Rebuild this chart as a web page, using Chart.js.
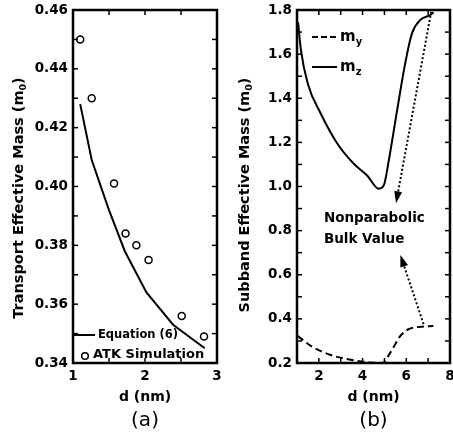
<!DOCTYPE html>
<html>
<head>
<meta charset="utf-8">
<script src="https://cdn.jsdelivr.net/npm/chart.js@4.4.1/dist/chart.umd.min.js"></script>
<style>
  html, body { margin: 0; padding: 0; background: #fff; }
  #wrap { position: relative; width: 453px; height: 436px; overflow: hidden; }
  canvas { position: absolute; top: 0; }
  #chartA { left: 0; }
  #chartB { left: 224px; }
</style>
</head>
<body>
<div id="wrap">
  <canvas id="chartA" width="224" height="436"></canvas>
  <canvas id="chartB" width="229" height="436"></canvas>
</div>
<script>
// --- Panel (a): transport effective mass ---
const atkD    = [1.10, 1.26, 1.57, 1.73, 1.88, 2.05, 2.51, 2.82];
const atkMass = [0.450, 0.430, 0.401, 0.384, 0.380, 0.375, 0.356, 0.349];
const eqD     = [1.10, 1.26, 1.50, 1.72, 2.02, 2.39, 2.83];
const eqMass  = [0.428, 0.409, 0.392, 0.378, 0.364, 0.353, 0.345];

const aXTicks = [1, 2, 3];
const aXMinor = [1, 1.5, 2, 2.5, 3];
const aYTicks = [0.34, 0.36, 0.38, 0.40, 0.42, 0.44, 0.46];
const aYMinor = [0.34, 0.35, 0.36, 0.37, 0.38, 0.39, 0.40, 0.41, 0.42, 0.43, 0.44, 0.45, 0.46];

// --- Panel (b): subband effective mass ---
const mzD = [1.05, 1.18, 1.49, 2.09, 2.85, 3.60, 4.21, 4.74, 4.97, 5.20, 5.58, 5.95, 6.26, 6.64, 7.09, 7.25];
const mz  = [1.745, 1.618, 1.467, 1.330, 1.194, 1.103, 1.050, 0.990, 1.005, 1.118, 1.345, 1.558, 1.694, 1.755, 1.777, 1.790];
const myD = [1.03, 1.64, 2.55, 3.60, 4.36, 4.90, 5.27, 5.73, 6.10, 6.64, 7.24];
const my  = [0.323, 0.277, 0.236, 0.212, 0.202, 0.200, 0.247, 0.323, 0.353, 0.364, 0.368];

const bXTicks = [2, 4, 6, 8];
const bXMinor = [1, 2, 3, 4, 5, 6, 7, 8];
const bYTicks = [0.2, 0.4, 0.6, 0.8, 1.0, 1.2, 1.4, 1.6, 1.8];
const bYMinor = [0.2, 0.3, 0.4, 0.5, 0.6, 0.7, 0.8, 0.9, 1.0, 1.1, 1.2, 1.3, 1.4, 1.5, 1.6, 1.7, 1.8];

// bulk value arrows, [from x, from y, to x, to y] in data units
const bulkArrows = [
  [7.14, 1.792, 5.53, 0.924],
  [6.79, 0.376, 5.73, 0.690]
];
const bulkLabel = ['Nonparabolic', 'Bulk Value'];

const FONT = "'DejaVu Sans', sans-serif";
Chart.defaults.font.family = FONT;
Chart.defaults.color = '#000';

const toPoints = (xs, ys) => xs.map((x, i) => ({ x, y: ys[i] }));

function fixedTicks(list) {
  return (scale) => { scale.ticks = list.map(v => ({ value: v })); };
}

function scaleX(min, max, ticks, fmt) {
  return {
    type: 'linear', min, max,
    grid: { display: false, drawTicks: false }, border: { display: false },
    afterBuildTicks: fixedTicks(ticks),
    afterFit: (s) => { s.height = 73; s.paddingLeft = 0; s.paddingRight = 0; },
    ticks: { autoSkip: false, maxRotation: 0, padding: 5, font: { size: 13.5, weight: 'bold' }, callback: fmt }
  };
}

function scaleY(min, max, ticks, fmt) {
  return {
    type: 'linear', min, max,
    grid: { display: false, drawTicks: false }, border: { display: false },
    afterBuildTicks: fixedTicks(ticks),
    afterFit: (s) => { s.width = 73; s.paddingTop = 0; s.paddingBottom = 0; },
    ticks: { autoSkip: false, padding: 5, font: { size: 13.5, weight: 'bold' }, callback: fmt }
  };
}

// --- Drawing helpers ---
function drawLine(ctx, x1, y1, x2, y2) {
  ctx.beginPath();
  ctx.moveTo(x1, y1);
  ctx.lineTo(x2, y2);
  ctx.stroke();
}

// text with a subscript part, e.g. m with 0
function drawSub(ctx, x, y, main, sub, tail, size, subSize, drop) {
  ctx.font = `bold ${size}px ${FONT}`;
  ctx.fillText(main, x, y);
  x += ctx.measureText(main).width;
  ctx.font = `bold ${subSize}px ${FONT}`;
  ctx.fillText(sub, x, y + drop);
  x += ctx.measureText(sub).width;
  if (tail) {
    ctx.font = `bold ${size}px ${FONT}`;
    ctx.fillText(tail, x, y);
  }
}

function subWidth(ctx, main, sub, tail, size, subSize) {
  ctx.font = `bold ${size}px ${FONT}`;
  let w = ctx.measureText(main + tail).width;
  ctx.font = `bold ${subSize}px ${FONT}`;
  return w + ctx.measureText(sub).width;
}

function drawArrow(ctx, x1, y1, x2, y2) {
  const ang = Math.atan2(y2 - y1, x2 - x1);
  const len = 12, half = 4;
  const bx = x2 - len * Math.cos(ang), by = y2 - len * Math.sin(ang);
  ctx.save();
  ctx.setLineDash([2, 2.2]);
  ctx.lineWidth = 2;
  drawLine(ctx, x1, y1, bx, by);
  ctx.setLineDash([]);
  ctx.beginPath();
  ctx.moveTo(x2, y2);
  ctx.lineTo(bx + half * Math.sin(ang), by - half * Math.cos(ang));
  ctx.lineTo(bx - half * Math.sin(ang), by + half * Math.cos(ang));
  ctx.closePath();
  ctx.fill();
  ctx.restore();
}

// --- Plugin: boxed axes with inward ticks, titles and panel label ---
const framePlugin = {
  id: 'frame',
  afterDraw(chart, args, opts) {
    const { ctx, chartArea: a, scales: { x, y } } = chart;
    ctx.save();
    ctx.strokeStyle = '#000';
    ctx.fillStyle = '#000';

    ctx.lineWidth = 1.5;
    opts.xMinor.forEach(v => {
      const px = x.getPixelForValue(v);
      drawLine(ctx, px, a.bottom, px, a.bottom - 5);
      drawLine(ctx, px, a.top, px, a.top + 5);
    });
    opts.yMinor.forEach(v => {
      const py = y.getPixelForValue(v);
      drawLine(ctx, a.left, py, a.left + 5, py);
      drawLine(ctx, a.right, py, a.right - 5, py);
    });

    ctx.lineWidth = 2.5;
    ctx.strokeRect(a.left, a.top, a.right - a.left, a.bottom - a.top);

    // y title, rotated, with subscript 0
    const w = subWidth(ctx, opts.yTitle, '0', ')', 14.5, 9.5);
    ctx.save();
    ctx.translate(opts.yTitleX, opts.yTitleY);
    ctx.rotate(-Math.PI / 2);
    ctx.textBaseline = 'alphabetic';
    ctx.textAlign = 'left';
    drawSub(ctx, -w / 2, 0, opts.yTitle, '0', ')', 14.5, 9.5, 3);
    ctx.restore();

    // x title and panel label
    const cx = (a.left + a.right) / 2;
    ctx.textAlign = 'center';
    ctx.textBaseline = 'middle';
    ctx.font = `bold 14px ${FONT}`;
    ctx.fillText('d (nm)', cx, 397);
    ctx.font = `20px ${FONT}`;
    ctx.fillText(opts.panel, cx, 421);
    ctx.restore();
  }
};

// --- Plugin: legend of panel (a) ---
const legendA = {
  id: 'legendA',
  afterDraw(chart) {
    const { ctx, chartArea: a } = chart;
    ctx.save();
    ctx.strokeStyle = '#000';
    ctx.fillStyle = '#000';
    ctx.lineWidth = 2;
    drawLine(ctx, a.left + 1, 335, a.left + 22, 335);
    ctx.textBaseline = 'middle';
    ctx.font = `bold 11.5px ${FONT}`;
    ctx.fillText('Equation (6)', a.left + 25, 335);
    ctx.lineWidth = 1.5;
    ctx.beginPath();
    ctx.arc(a.left + 12, 356, 3.3, 0, Math.PI * 2);
    ctx.stroke();
    ctx.font = `bold 13px ${FONT}`;
    ctx.fillText('ATK Simulation', a.left + 20, 355);
    ctx.restore();
  }
};

// --- Plugin: legend, arrows and label of panel (b) ---
const legendB = {
  id: 'legendB',
  afterDraw(chart) {
    const { ctx, chartArea: a, scales: { x, y } } = chart;
    ctx.save();
    ctx.strokeStyle = '#000';
    ctx.fillStyle = '#000';
    ctx.lineWidth = 2;
    const lx = a.left + 15;
    ctx.setLineDash([6, 3]);
    drawLine(ctx, lx, 37, lx + 25, 37);
    ctx.setLineDash([]);
    drawLine(ctx, lx, 67, lx + 25, 67);
    ctx.textBaseline = 'alphabetic';
    drawSub(ctx, lx + 28, 41, 'm', 'y', '', 15, 10, 4);
    drawSub(ctx, lx + 28, 71, 'm', 'z', '', 15, 10, 4);

    bulkArrows.forEach(([x1, y1, x2, y2]) => {
      drawArrow(ctx, x.getPixelForValue(x1), y.getPixelForValue(y1),
                x.getPixelForValue(x2), y.getPixelForValue(y2));
    });

    ctx.font = `bold 13.5px ${FONT}`;
    ctx.fillText(bulkLabel[0], x.getPixelForValue(2.23), 222);
    ctx.fillText(bulkLabel[1], x.getPixelForValue(2.23), 243);
    ctx.restore();
  }
};

// --- Chart (a) ---
new Chart(document.getElementById('chartA'), {
  type: 'scatter',
  data: {
    datasets: [
      {
        label: 'Equation (6)',
        data: toPoints(eqD, eqMass),
        showLine: true,
        borderColor: '#000',
        borderWidth: 2,
        pointRadius: 0,
        tension: 0
      },
      {
        label: 'ATK Simulation',
        data: toPoints(atkD, atkMass),
        showLine: false,
        pointStyle: 'circle',
        pointRadius: 3.5,
        pointBorderWidth: 1.5,
        pointBorderColor: '#000',
        pointBackgroundColor: 'rgba(0,0,0,0)'
      }
    ]
  },
  options: {
    responsive: false,
    animation: false,
    layout: { padding: { top: 10, right: 7, left: 0, bottom: 0 } },
    plugins: {
      legend: { display: false },
      tooltip: { enabled: false },
      frame: { xMinor: aXMinor, yMinor: aYMinor, yTitle: 'Transport Effective Mass (m', yTitleX: 23, yTitleY: 198, panel: '(a)' }
    },
    scales: {
      x: scaleX(1, 3, aXTicks, v => String(v)),
      y: scaleY(0.34, 0.46, aYTicks, v => v.toFixed(2))
    }
  },
  plugins: [framePlugin, legendA]
});

// --- Chart (b) ---
new Chart(document.getElementById('chartB'), {
  type: 'scatter',
  data: {
    datasets: [
      {
        label: 'my',
        data: toPoints(myD, my),
        showLine: true,
        borderColor: '#000',
        borderWidth: 2,
        borderDash: [7, 4],
        pointRadius: 0,
        cubicInterpolationMode: 'monotone'
      },
      {
        label: 'mz',
        data: toPoints(mzD, mz),
        showLine: true,
        borderColor: '#000',
        borderWidth: 2,
        pointRadius: 0,
        cubicInterpolationMode: 'monotone'
      }
    ]
  },
  options: {
    responsive: false,
    animation: false,
    layout: { padding: { top: 10, right: 3, left: 0, bottom: 0 } },
    plugins: {
      legend: { display: false },
      tooltip: { enabled: false },
      frame: { xMinor: bXMinor, yMinor: bYMinor, yTitle: 'Subband Effective Mass (m', yTitleX: 25, yTitleY: 195, panel: '(b)' }
    },
    scales: {
      x: scaleX(1, 8, bXTicks, v => String(v)),
      y: scaleY(0.2, 1.8, bYTicks, v => v.toFixed(1))
    }
  },
  plugins: [framePlugin, legendB]
});
</script>
</body>
</html>
